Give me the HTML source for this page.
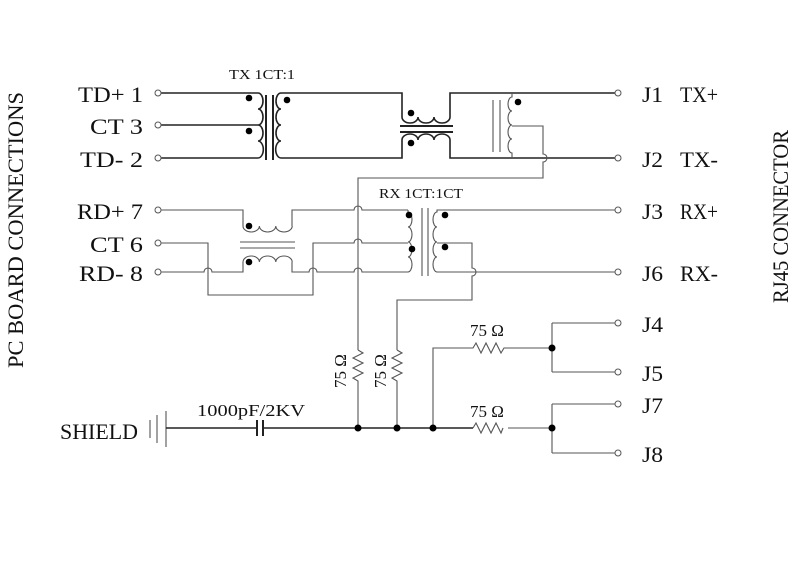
<!DOCTYPE html>
<html><head><meta charset="utf-8"><style>
html,body{margin:0;padding:0;background:#fff;}
svg{display:block;}
text{font-family:"Liberation Serif",serif;fill:#111;}
</style></head><body>
<svg width="796" height="566" viewBox="0 0 796 566" xmlns="http://www.w3.org/2000/svg">
<g fill="none" stroke="#222" stroke-width="1.6">
<path d="M161,93 H258 M161,125 H258 M161,158 H258"/>
<path d="M258,93 a5,8 0 0 1 0,16 a5,8 0 0 1 0,16 a5,8 0 0 1 0,16 a5,8 0 0 1 0,17"/>
<path d="M266,95 V160 M273,95 V160" stroke-width="2"/>
<path d="M281,93 a5,8 0 0 0 0,16 a5,8 0 0 0 0,16 a5,8 0 0 0 0,16 a5,8 0 0 0 0,17"/>
<path d="M281,93 H402 V117 M281,158 H402 V140"/>
<path d="M402,117 a8,6 0 0 0 16,0 a8,6 0 0 0 16,0 a8,6 0 0 0 16,0"/>
<path d="M402,140 a8,6 0 0 1 16,0 a8,6 0 0 1 16,0 a8,6 0 0 1 16,0"/>
<path d="M400,126 H453 M400,132 H453" stroke-width="2"/>
<path d="M450,117 V93 H615 M450,140 V158 H615"/>
</g>
<g fill="none" stroke="#555" stroke-width="1.1">
<path d="M493,100 V152 M500,100 V152"/>
<path d="M512,93 V97 a4,7 0 0 0 0,14 a4,7 0 0 0 0,14 a4,7 0 0 0 0,14 a4,7 0 0 0 0,14 V158"/>
<path d="M512,126 H543 V154 a4,4 0 0 1 0,8 V178 H358 V350"/>
<path d="M161,210 H243 V226"/>
<path d="M243,226 a8.2,6 0 0 0 16.4,0 a8.2,6 0 0 0 16.4,0 a8.2,6 0 0 0 16.4,0"/>
<path d="M292,226 V210 H354 a4,4 0 0 1 8,0 H408"/>
<path d="M240,242 H295 M240,248 H295"/>
<path d="M243,262 a8.2,6 0 0 1 16.4,0 a8.2,6 0 0 1 16.4,0 a8.2,6 0 0 1 16.4,0"/>
<path d="M161,272 H204 a4,4 0 0 1 8,0 H243 V262"/>
<path d="M292,262 V272 H309 a4,4 0 0 1 8,0 H354 a4,4 0 0 1 8,0 H408"/>
<path d="M161,243 H208 V295 H313 V243 H354 a4,4 0 0 1 8,0 H408"/>
<path d="M408,210 V212 a4,7.5 0 0 1 0,15 a4,7.5 0 0 1 0,15 a4,7.5 0 0 1 0,15 a4,7.5 0 0 1 0,15"/>
<path d="M422,208 V276 M428,208 V276"/>
<path d="M445,210 H437 V212 a4,7.5 0 0 0 0,15 a4,7.5 0 0 0 0,15 a4,7.5 0 0 0 0,15 a4,7.5 0 0 0 0,15 H472"/>
<path d="M437,210 H615 M472,272 H615"/>
<path d="M437,243 H472 V268 a4,4 0 0 1 0,8 V300 H397 V350"/>
<path d="M358,350 l5,3 l-10,5 l10,5 l-10,5 l10,5 l-10,5 l5,3 V428"/>
<path d="M397,350 l5,3 l-10,5 l10,5 l-10,5 l10,5 l-10,5 l5,3 V428"/>
<path d="M433,428 V348 H473 l3,-5 l5,10 l5,-10 l5,10 l5,-10 l5,10 l3,-5 H552"/>
<path d="M508,428 H552 M552,323 V372 M552,404 V453"/>
<path d="M552,323 H615 M552,372 H615 M552,404 H615 M552,453 H615"/>
<path d="M473,428 l3,-5 l5,10 l5,-10 l5,10 l5,-10 l5,10 l2,-5"/>
<path d="M150,420 V438 M157,415 V443 M166,411 V447"/>
</g>
<g fill="none" stroke="#222" stroke-width="1.6">
<path d="M166,428 H257 M263,428 H473"/>
<path d="M257,420 V436 M263,420 V436" stroke-width="2"/>
</g>
<g fill="#fff" stroke="#555" stroke-width="1">
<circle cx="158" cy="93" r="3"/><circle cx="158" cy="125" r="3"/><circle cx="158" cy="158" r="3"/>
<circle cx="158" cy="210" r="3"/><circle cx="158" cy="243" r="3"/><circle cx="158" cy="272" r="3"/>
<circle cx="618" cy="93" r="3"/><circle cx="618" cy="158" r="3"/><circle cx="618" cy="210" r="3"/><circle cx="618" cy="272" r="3"/>
<circle cx="618" cy="323" r="3"/><circle cx="618" cy="372" r="3"/><circle cx="618" cy="404" r="3"/><circle cx="618" cy="453" r="3"/>
</g>
<g fill="#000">
<circle cx="249" cy="98" r="3.3"/><circle cx="249" cy="131" r="3.3"/><circle cx="287" cy="100" r="3.3"/>
<circle cx="411" cy="113" r="3.3"/><circle cx="411" cy="143" r="3.3"/><circle cx="518" cy="102" r="3.3"/>
<circle cx="249" cy="226" r="3.3"/><circle cx="249" cy="262" r="3.3"/>
<circle cx="409" cy="215" r="3.3"/><circle cx="412" cy="249" r="3.3"/><circle cx="445" cy="215" r="3.3"/><circle cx="445" cy="247" r="3.3"/>
<circle cx="358" cy="428" r="3.5"/><circle cx="397" cy="428" r="3.5"/><circle cx="433" cy="428" r="3.5"/>
<circle cx="552" cy="348" r="3.5"/><circle cx="552" cy="428" r="3.5"/>
</g>
<g font-size="22">
<text x="78" y="102" textLength="65" lengthAdjust="spacingAndGlyphs">TD+ 1</text>
<text x="90" y="134" textLength="53" lengthAdjust="spacingAndGlyphs">CT 3</text>
<text x="80" y="167" textLength="63" lengthAdjust="spacingAndGlyphs">TD- 2</text>
<text x="77" y="219" textLength="66" lengthAdjust="spacingAndGlyphs">RD+ 7</text>
<text x="90" y="252" textLength="53" lengthAdjust="spacingAndGlyphs">CT 6</text>
<text x="79" y="281" textLength="64" lengthAdjust="spacingAndGlyphs">RD- 8</text>
<text x="60" y="439" textLength="78" lengthAdjust="spacingAndGlyphs">SHIELD</text>
<text x="642" y="102" textLength="21" lengthAdjust="spacingAndGlyphs">J1</text><text x="680" y="102" textLength="38" lengthAdjust="spacingAndGlyphs">TX+</text>
<text x="642" y="167" textLength="21" lengthAdjust="spacingAndGlyphs">J2</text><text x="680" y="167" textLength="38" lengthAdjust="spacingAndGlyphs">TX-</text>
<text x="642" y="219" textLength="21" lengthAdjust="spacingAndGlyphs">J3</text><text x="680" y="219" textLength="38" lengthAdjust="spacingAndGlyphs">RX+</text>
<text x="642" y="281" textLength="21" lengthAdjust="spacingAndGlyphs">J6</text><text x="680" y="281" textLength="38" lengthAdjust="spacingAndGlyphs">RX-</text>
<text x="642" y="332" textLength="21" lengthAdjust="spacingAndGlyphs">J4</text><text x="642" y="381" textLength="21" lengthAdjust="spacingAndGlyphs">J5</text><text x="642" y="413" textLength="21" lengthAdjust="spacingAndGlyphs">J7</text><text x="642" y="462" textLength="21" lengthAdjust="spacingAndGlyphs">J8</text>
<text transform="translate(23,368) rotate(-90)" textLength="276" lengthAdjust="spacingAndGlyphs">PC BOARD CONNECTIONS</text>
<text transform="translate(788,303) rotate(-90)" textLength="173" lengthAdjust="spacingAndGlyphs">RJ45 CONNECTOR</text>
</g>
<g font-size="17">
<text x="197" y="416" textLength="108" lengthAdjust="spacingAndGlyphs">1000pF/2KV</text>
<text x="470" y="336">75 Ω</text>
<text x="470" y="417">75 Ω</text>
<text transform="translate(346,388) rotate(-90)">75 Ω</text>
<text transform="translate(386,388) rotate(-90)">75 Ω</text>
</g>
<g font-size="14">
<text x="229" y="79" textLength="66" lengthAdjust="spacingAndGlyphs">TX 1CT:1</text>
<text x="379" y="198" textLength="84" lengthAdjust="spacingAndGlyphs">RX 1CT:1CT</text>
</g>
</svg>
</body></html>
